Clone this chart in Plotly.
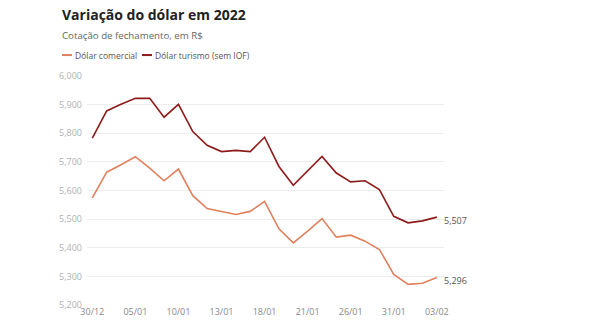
import plotly.graph_objects as go

dates = ["30/12", "03/01", "04/01", "05/01", "06/01", "07/01", "10/01", "11/01", "12/01",
         "13/01", "14/01", "17/01", "18/01", "19/01", "20/01", "21/01", "24/01", "25/01",
         "26/01", "27/01", "28/01", "31/01", "01/02", "02/02", "03/02"]

comercial = [5.574, 5.664, 5.690, 5.718, 5.678, 5.634, 5.675, 5.582, 5.537,
             5.527, 5.516, 5.527, 5.562, 5.466, 5.417, 5.458, 5.502, 5.437,
             5.444, 5.423, 5.394, 5.307, 5.272, 5.276, 5.296]

turismo = [5.783, 5.878, 5.901, 5.922, 5.922, 5.856, 5.901, 5.806, 5.758,
           5.736, 5.740, 5.736, 5.786, 5.684, 5.618, 5.667, 5.719, 5.661,
           5.630, 5.634, 5.603, 5.510, 5.487, 5.494, 5.507]

y_ticks = [5.2, 5.3, 5.4, 5.5, 5.6, 5.7, 5.8, 5.9, 6.0]
y_ticklabels = ["5,200", "5,300", "5,400", "5,500", "5,600", "5,700", "5,800", "5,900", "6,000"]
x_ticks = ["30/12", "05/01", "10/01", "13/01", "18/01", "21/01", "26/01", "31/01", "03/02"]

series = [
    ("Dólar comercial", comercial, "#E0805E"),
    ("Dólar turismo (sem IOF)", turismo, "#8E1B1B"),
]

FONT = "Open Sans, Noto Sans, sans-serif"

fig = go.Figure()
for name, vals, color in series:
    fig.add_trace(go.Scatter(x=dates, y=vals, mode="lines", name=name,
                             line=dict(color=color, width=1.6), showlegend=False,
                             hoverinfo="skip"))
    fig.add_annotation(x=dates[-1], y=vals[-1], xref="x", yref="y",
                       text=f"{vals[-1]:.3f}".replace(".", ","),
                       showarrow=False, xanchor="left", xshift=5, yshift=-3,
                       font=dict(family=FONT, size=9, color="#555555"))

L, R, T, B = 87, 146, 76, 24.5
W, H = 590, 330
pw, ph = W - L - R, H - T - B

def px(xp):
    return (xp - L) / pw

def py(yp):
    return (H - B - yp) / ph

fig.add_annotation(x=px(60), y=py(14), xref="paper", yref="paper",
                   text="<b>Variação do dólar em 2022</b>", showarrow=False,
                   xanchor="left", yanchor="middle",
                   font=dict(family=FONT, size=14, color="#222222"))
fig.add_annotation(x=px(60), y=py(35), xref="paper", yref="paper",
                   text="Cotação de fechamento, em R$", showarrow=False,
                   xanchor="left", yanchor="middle",
                   font=dict(family=FONT, size=9.7, color="#666666"))

leg_x = [62, 142]
for (name, vals, color), lx in zip(series, leg_x):
    fig.add_shape(type="line", xref="paper", yref="paper",
                  x0=px(lx), x1=px(lx + 10), y0=py(55), y1=py(55),
                  line=dict(color=color, width=2))
    fig.add_annotation(x=px(lx + 11), y=py(55), xref="paper", yref="paper",
                       text=name, showarrow=False, xanchor="left", yanchor="middle",
                       font=dict(family=FONT, size=8.5, color="#555555"))

fig.update_layout(
    width=W, height=H,
    margin=dict(l=L, r=R, t=T, b=B),
    paper_bgcolor="white", plot_bgcolor="white",
    font=dict(family=FONT),
    xaxis=dict(type="category", range=[-0.37, 24.5], tickvals=x_ticks,
               showgrid=False, zeroline=False, showline=False, ticks="",
               tickfont=dict(family=FONT, size=9, color="#888888")),
    yaxis=dict(range=[5.2, 6.0], tickvals=y_ticks, ticktext=y_ticklabels,
               showgrid=True, gridcolor="#ececec", gridwidth=1, zeroline=False,
               showline=False, ticks="", ticklabelstandoff=4,
               tickfont=dict(family=FONT, size=9, color="#b0b0b0")),
)

fig.write_html("out.html")
